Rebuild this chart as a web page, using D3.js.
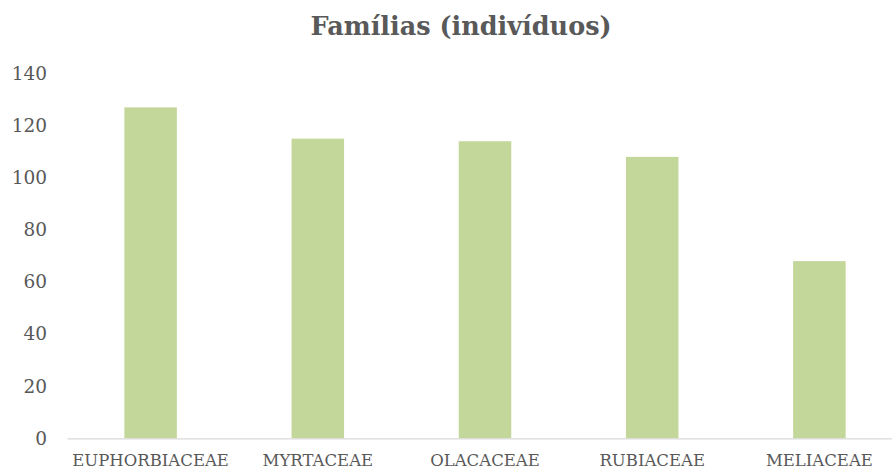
<!DOCTYPE html>
<html>
<head>
<meta charset="utf-8">
<script src="https://cdn.jsdelivr.net/npm/d3@7"></script>
<style>
  html, body { margin:0; padding:0; background:#fff; }
</style>
</head>
<body>
<svg id="chart" width="892" height="473"></svg>
<script>
// data
const families = ['EUPHORBIACEAE', 'MYRTACEAE', 'OLACACEAE', 'RUBIACEAE', 'MELIACEAE'];
const individuals = [127, 115, 114, 108, 68];
const yTicks = [0, 20, 40, 60, 80, 100, 120, 140];

const serif = '"DejaVu Serif", serif';

const svg = d3.select('#chart');
const plot = { left:67, right:903, top:73.5, bottom:438.3 };

const x = d3.scaleBand().domain(families).range([plot.left, plot.right]).paddingInner(0.686).paddingOuter(0.343);
const y = d3.scaleLinear().domain([0, 140]).range([plot.bottom, plot.top]);

// title
svg.append('text')
  .attr('x', 461).attr('y', 35)
  .attr('text-anchor', 'middle')
  .style('font-family', serif)
  .style('font-size', '25.5px').style('font-weight', 'bold')
  .attr('fill', '#595959')
  .text('Famílias (indivíduos)');

// y tick labels (no gridlines in the reference)
const yAxis = svg.append('g')
  .attr('transform', 'translate(' + plot.left + ',0)')
  .call(d3.axisLeft(y).tickValues(yTicks).tickSize(0).tickPadding(20));
yAxis.attr('font-family', serif);
yAxis.select('.domain').remove();
yAxis.selectAll('text')
  .style('font-size', '18.5px').attr('fill', '#595959');

// bars
svg.append('g').selectAll('rect')
  .data(families)
  .join('rect')
  .attr('x', d => x(d))
  .attr('width', x.bandwidth())
  .attr('y', (d, i) => y(individuals[i]))
  .attr('height', (d, i) => y(0) - y(individuals[i]))
  .attr('fill', '#c4d79b');

// x axis
const xAxis = svg.append('g')
  .attr('transform', 'translate(0,' + plot.bottom + ')')
  .call(d3.axisBottom(x).tickSize(0).tickPadding(16));
xAxis.attr('font-family', serif);
xAxis.select('.domain').attr('stroke', '#d9d9d9').attr('stroke-width', 1.2);
xAxis.selectAll('text')
  .style('font-size', '16.5px').attr('fill', '#595959');
</script>
</body>
</html>
